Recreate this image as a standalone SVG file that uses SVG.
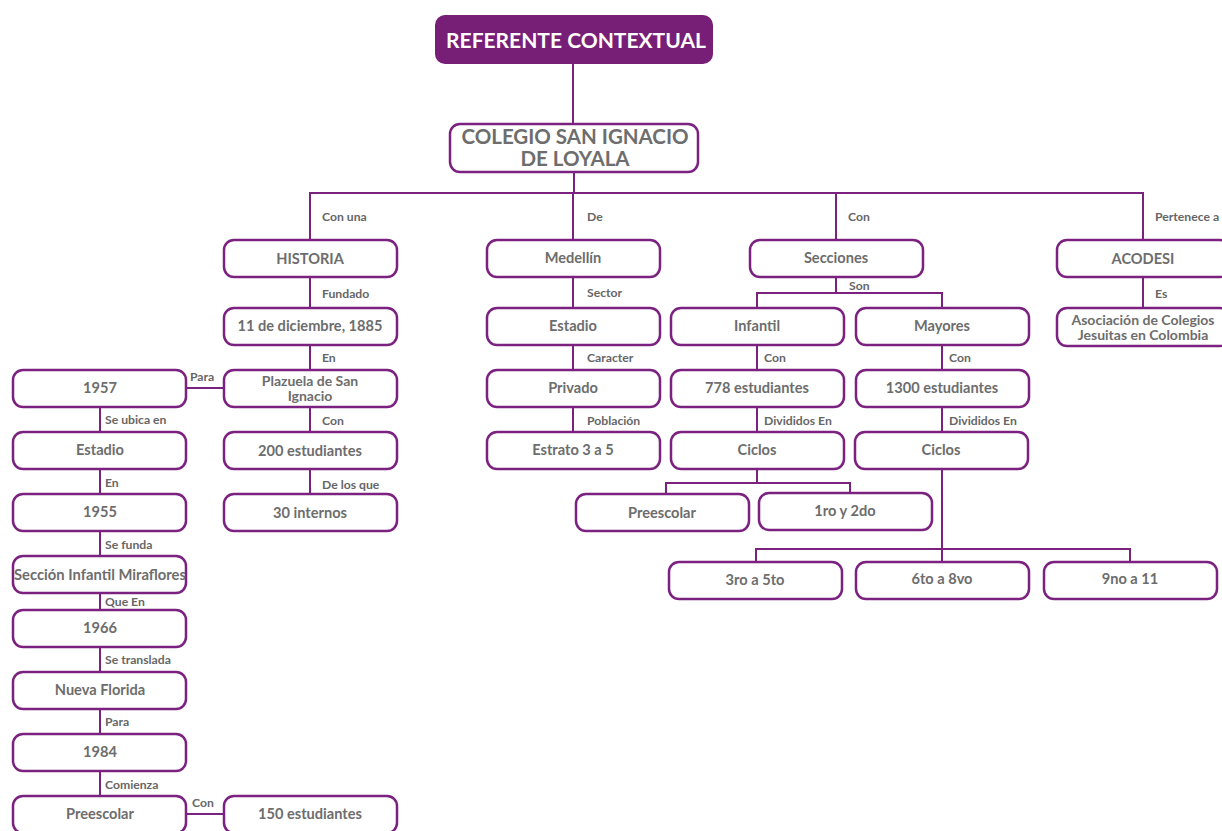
<svg xmlns="http://www.w3.org/2000/svg" width="1222" height="831" viewBox="0 0 1222 831">
<style>
.n rect{fill:#fff;stroke:#7b2180;stroke-width:2.5}
.n text{font-family:Lato,"Open Sans","Liberation Sans",sans-serif;font-weight:bold;font-size:14.6px;fill:#6d6d6d;text-anchor:middle}
.n text.s{font-size:14px}
.c line,.c polyline{stroke:#7b2180;stroke-width:2;fill:none}
.l{font-family:Lato,"Open Sans","Liberation Sans",sans-serif;font-weight:bold;font-size:12.2px;fill:#666}
</style>
<rect width="1222" height="831" fill="#fff"/>
<g class="c">
<line x1="573" y1="64" x2="573" y2="124"/>
<line x1="574" y1="172" x2="574" y2="193"/>
<polyline points="310,240 310,193 1143,193 1143,240"/>
<line x1="573" y1="193" x2="573" y2="240"/>
<line x1="836" y1="193" x2="836" y2="240"/>
<line x1="310" y1="277" x2="310" y2="308"/>
<line x1="310" y1="345" x2="310" y2="370"/>
<line x1="310" y1="407" x2="310" y2="432"/>
<line x1="310" y1="469" x2="310" y2="494"/>
<line x1="186" y1="388" x2="224" y2="388"/>
<line x1="100" y1="407" x2="100" y2="432"/>
<line x1="100" y1="469" x2="100" y2="494"/>
<line x1="100" y1="531" x2="100" y2="556"/>
<line x1="100" y1="593" x2="100" y2="610"/>
<line x1="100" y1="647" x2="100" y2="672"/>
<line x1="100" y1="709" x2="100" y2="734"/>
<line x1="100" y1="771" x2="100" y2="796"/>
<line x1="186" y1="814" x2="224" y2="814"/>
<line x1="573" y1="277" x2="573" y2="308"/>
<line x1="573" y1="345" x2="573" y2="370"/>
<line x1="573" y1="407" x2="573" y2="432"/>
<line x1="836" y1="277" x2="836" y2="293"/>
<polyline points="757,308 757,293 942,293 942,308"/>
<line x1="757" y1="345" x2="757" y2="370"/>
<line x1="757" y1="407" x2="757" y2="432"/>
<line x1="942" y1="345" x2="942" y2="370"/>
<line x1="942" y1="407" x2="942" y2="432"/>
<line x1="757" y1="469" x2="757" y2="483"/>
<polyline points="666,494 666,483 850,483 850,494"/>
<line x1="942" y1="469" x2="942" y2="562"/>
<polyline points="756,562 756,549 1130,549 1130,562"/>
<line x1="1143" y1="277" x2="1143" y2="308"/>
</g>
<g id="labels">
<text class="l" x="322" y="221">Con una</text>
<text class="l" x="587" y="221">De</text>
<text class="l" x="848" y="221">Con</text>
<text class="l" x="1155" y="221">Pertenece a</text>
<text class="l" x="322" y="298">Fundado</text>
<text class="l" x="587" y="297">Sector</text>
<text class="l" x="849" y="290">Son</text>
<text class="l" x="1155" y="298">Es</text>
<text class="l" x="322" y="362">En</text>
<text class="l" x="587" y="362">Caracter</text>
<text class="l" x="764" y="362">Con</text>
<text class="l" x="949" y="362">Con</text>
<text class="l" x="190" y="381">Para</text>
<text class="l" x="105" y="424">Se ubica en</text>
<text class="l" x="322" y="425">Con</text>
<text class="l" x="587" y="425">Población</text>
<text class="l" x="764" y="425">Divididos En</text>
<text class="l" x="949" y="425">Divididos En</text>
<text class="l" x="105" y="487">En</text>
<text class="l" x="322" y="489">De los que</text>
<text class="l" x="105" y="549">Se funda</text>
<text class="l" x="105" y="606">Que En</text>
<text class="l" x="105" y="664">Se translada</text>
<text class="l" x="105" y="726">Para</text>
<text class="l" x="105" y="789">Comienza</text>
<text class="l" x="192" y="807">Con</text>
</g>
<g id="referente">
<rect x="435" y="15" width="278" height="49" rx="10" fill="#771e77"/>
<text x="576" y="48" font-family="Lato,'Open Sans','Liberation Sans',sans-serif" font-weight="bold" font-size="21" fill="#fff" text-anchor="middle">REFERENTE CONTEXTUAL</text>
</g>
<g id="colegio" class="n">
<rect x="450" y="124" width="248" height="48" rx="10"/>
<text x="575" y="144" style="font-size:20.5px">COLEGIO SAN IGNACIO</text>
<text x="575" y="166" style="font-size:20.5px">DE LOYALA</text>
</g>
<g id="historia" class="n"><rect x="224" y="240" width="173" height="37" rx="10"/><text x="310" y="264">HISTORIA</text></g>
<g id="medellin" class="n"><rect x="487" y="240" width="173" height="37" rx="10"/><text x="573" y="263">Medellín</text></g>
<g id="secciones" class="n"><rect x="750" y="240" width="173" height="37" rx="10"/><text x="836" y="263">Secciones</text></g>
<g id="acodesi" class="n"><rect x="1057" y="240" width="173" height="37" rx="10"/><text x="1143" y="264">ACODESI</text></g>
<g id="fecha" class="n"><rect x="224" y="308" width="173" height="37" rx="10"/><text x="310" y="331">11 de diciembre, 1885</text></g>
<g id="estadio1" class="n"><rect x="487" y="308" width="173" height="37" rx="10"/><text x="573" y="331">Estadio</text></g>
<g id="infantil" class="n"><rect x="671" y="308" width="173" height="37" rx="10"/><text x="757" y="331">Infantil</text></g>
<g id="mayores" class="n"><rect x="856" y="308" width="173" height="37" rx="10"/><text x="942" y="331">Mayores</text></g>
<g id="asociacion" class="n"><rect x="1057" y="308" width="173" height="38" rx="10"/><text class="s" x="1143" y="325">Asociación de Colegios</text><text class="s" x="1143" y="340">Jesuitas en Colombia</text></g>
<g id="n1957" class="n"><rect x="13" y="370" width="173" height="37" rx="10"/><text x="100" y="393">1957</text></g>
<g id="plazuela" class="n"><rect x="224" y="370" width="173" height="37" rx="10"/><text class="s" x="310" y="386">Plazuela de San</text><text class="s" x="310" y="401">Ignacio</text></g>
<g id="privado" class="n"><rect x="487" y="370" width="173" height="37" rx="10"/><text x="573" y="393">Privado</text></g>
<g id="e778" class="n"><rect x="671" y="370" width="173" height="37" rx="10"/><text x="757" y="393">778 estudiantes</text></g>
<g id="e1300" class="n"><rect x="856" y="370" width="173" height="37" rx="10"/><text x="942" y="393">1300 estudiantes</text></g>
<g id="estadio2" class="n"><rect x="13" y="432" width="173" height="37" rx="10"/><text x="100" y="455">Estadio</text></g>
<g id="e200" class="n"><rect x="224" y="432" width="173" height="37" rx="10"/><text x="310" y="456">200 estudiantes</text></g>
<g id="estrato" class="n"><rect x="487" y="432" width="173" height="37" rx="10"/><text x="573" y="455">Estrato 3 a 5</text></g>
<g id="ciclos1" class="n"><rect x="671" y="432" width="173" height="37" rx="10"/><text x="757" y="455">Ciclos</text></g>
<g id="ciclos2" class="n"><rect x="855" y="432" width="173" height="37" rx="10"/><text x="941" y="455">Ciclos</text></g>
<g id="n1955" class="n"><rect x="13" y="494" width="173" height="37" rx="10"/><text x="100" y="517">1955</text></g>
<g id="internos" class="n"><rect x="224" y="494" width="173" height="37" rx="10"/><text x="310" y="518">30 internos</text></g>
<g id="preescolar1" class="n"><rect x="576" y="494" width="173" height="37" rx="10"/><text x="662" y="518">Preescolar</text></g>
<g id="primero" class="n"><rect x="759" y="493" width="173" height="37" rx="10"/><text x="845" y="516">1ro y 2do</text></g>
<g id="miraflores" class="n"><rect x="13" y="556" width="173" height="37" rx="10"/><text x="100" y="580" textLength="172" lengthAdjust="spacingAndGlyphs">Sección Infantil Miraflores</text></g>
<g id="g3a5" class="n"><rect x="669" y="562" width="173" height="37" rx="10"/><text x="755" y="585">3ro a 5to</text></g>
<g id="g6a8" class="n"><rect x="856" y="562" width="173" height="37" rx="10"/><text x="942" y="584">6to a 8vo</text></g>
<g id="g9a11" class="n"><rect x="1044" y="562" width="173" height="37" rx="10"/><text x="1130" y="584">9no a 11</text></g>
<g id="n1966" class="n"><rect x="13" y="610" width="173" height="37" rx="10"/><text x="100" y="633">1966</text></g>
<g id="nuevaflorida" class="n"><rect x="13" y="672" width="173" height="37" rx="10"/><text x="100" y="695">Nueva Florida</text></g>
<g id="n1984" class="n"><rect x="13" y="734" width="173" height="37" rx="10"/><text x="100" y="757">1984</text></g>
<g id="preescolar2" class="n"><rect x="13" y="796" width="173" height="37" rx="10"/><text x="100" y="819">Preescolar</text></g>
<g id="e150" class="n"><rect x="224" y="796" width="173" height="37" rx="10"/><text x="310" y="819">150 estudiantes</text></g>
</svg>
